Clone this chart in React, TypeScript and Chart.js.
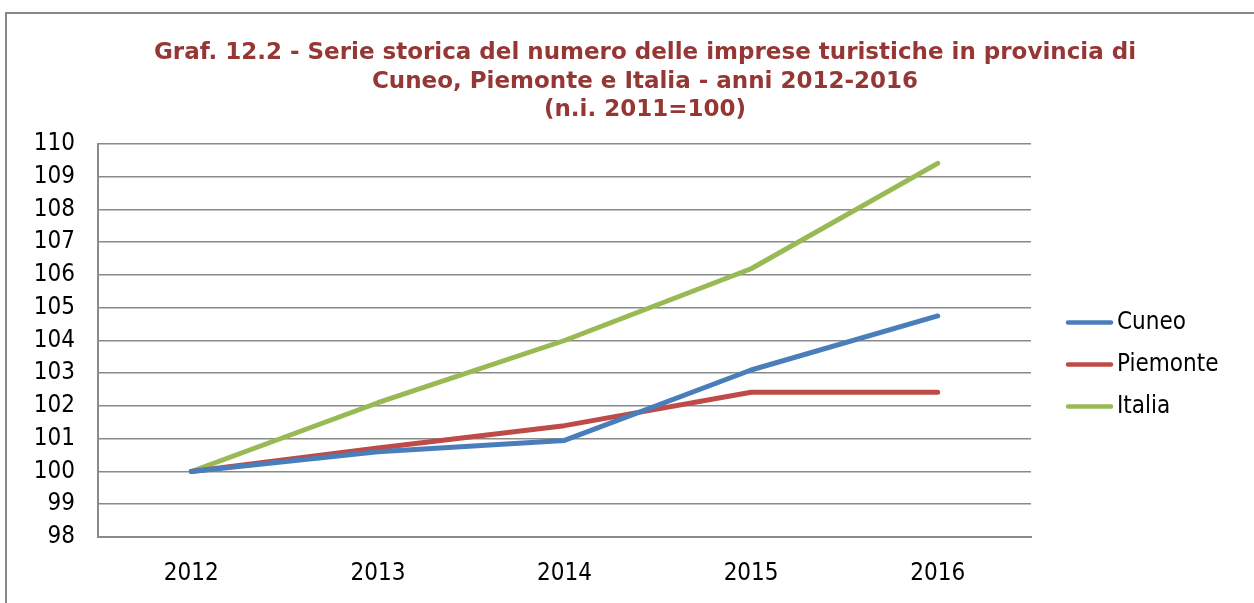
import React, { useEffect, useRef } from "react";
import { Chart, registerables } from "chart.js";

Chart.register(...registerables);

const TITLE_LINES = [
  "Graf. 12.2 - Serie storica del numero delle imprese turistiche in provincia di",
  "Cuneo, Piemonte e Italia - anni 2012-2016",
  "(n.i. 2011=100)",
];
const YEARS = ["2012", "2013", "2014", "2015", "2016"];
const SERIES_NAMES = ["Cuneo", "Piemonte", "Italia"];
const CUNEO = [100, 100.6, 100.95, 103.1, 104.75];
const PIEMONTE = [100, 100.72, 101.4, 102.42, 102.42];
const ITALIA = [100, 102.1, 104.0, 106.19, 109.41];
const Y_MIN = 98;
const Y_MAX = 110;
const Y_STEP = 1;

const COLORS = ["#4A7EBB", "#BE4B48", "#98B954"];
const TITLE_FONT = "'DejaVu Sans', Verdana, sans-serif";
const FONT = "'DejaVu Sans Condensed', 'Liberation Sans', sans-serif";
const GRID = "#8a8a8a";

const titlePlugin = {
  id: "customTitle",
  afterDraw(chart: any) {
    const ctx = chart.ctx;
    ctx.save();
    ctx.font = `bold 23px ${TITLE_FONT}`;
    ctx.fillStyle = "#953735";
    ctx.textAlign = "center";
    ctx.textBaseline = "middle";
    TITLE_LINES.forEach((t, i) => ctx.fillText(t, 645, 53 + i * 28.7));
    ctx.restore();
  },
};

const legendPlugin = {
  id: "customLegend",
  afterDraw(chart: any) {
    const ctx = chart.ctx;
    ctx.save();
    chart.data.datasets.forEach((ds: any, i: number) => {
      const y = 322.5 + i * 42;
      ctx.strokeStyle = ds.borderColor;
      ctx.lineWidth = 4.5;
      ctx.lineCap = "round";
      ctx.beginPath();
      ctx.moveTo(1068, y);
      ctx.lineTo(1111, y);
      ctx.stroke();
      ctx.fillStyle = "#000";
      ctx.font = `24px ${FONT}`;
      ctx.textAlign = "left";
      ctx.textBaseline = "middle";
      ctx.fillText(ds.label, 1117, y);
    });
    ctx.restore();
  },
};

export default function App() {
  const ref = useRef<HTMLCanvasElement | null>(null);
  useEffect(() => {
    if (!ref.current) return;
    const series = [CUNEO, PIEMONTE, ITALIA];
    const chart = new Chart(ref.current, {
      type: "line",
      data: {
        labels: YEARS,
        datasets: series.map((d, i) => ({
          label: SERIES_NAMES[i],
          data: d,
          borderColor: COLORS[i],
          backgroundColor: COLORS[i],
          borderWidth: 5,
          pointRadius: 0,
          tension: 0,
          borderCapStyle: "round",
          borderJoinStyle: "round",
        })),
      },
      options: {
        responsive: false,
        animation: false,
        layout: { padding: { top: 144, right: 223, left: 0, bottom: 0 } },
        plugins: {
          legend: { display: false },
          title: { display: false },
          tooltip: { enabled: false },
        },
        scales: {
          x: {
            offset: true,
            grid: { display: true, drawOnChartArea: false, drawTicks: false },
            border: { display: true, color: GRID, width: 2 },
            ticks: { color: "#000", font: { family: FONT, size: 24 }, padding: 22 },
            afterFit: (s: any) => {
              s.height = 66;
            },
          },
          y: {
            min: Y_MIN,
            max: Y_MAX,
            grid: { color: GRID, lineWidth: 1.6, drawTicks: false },
            border: { display: true, color: GRID, width: 2 },
            ticks: { stepSize: Y_STEP, color: "#000", font: { family: FONT, size: 24 }, padding: 23 },
            afterFit: (s: any) => {
              s.width = 98;
            },
          },
        },
      },
      plugins: [titlePlugin, legendPlugin],
    });
    return () => chart.destroy();
  }, []);

  return (
    <div
      style={{
        position: "fixed",
        left: 0,
        top: 0,
        width: 1254,
        height: 603,
        overflow: "hidden",
        background: "#fff",
      }}
    >
      <div
        style={{
          position: "absolute",
          left: 5,
          top: 12,
          width: 1400,
          height: 800,
          borderLeft: "2px solid #878787",
          borderTop: "2px solid #878787",
        }}
      />
      <canvas ref={ref} width={1254} height={603} style={{ position: "absolute", left: 0, top: 0 }} />
    </div>
  );
}
